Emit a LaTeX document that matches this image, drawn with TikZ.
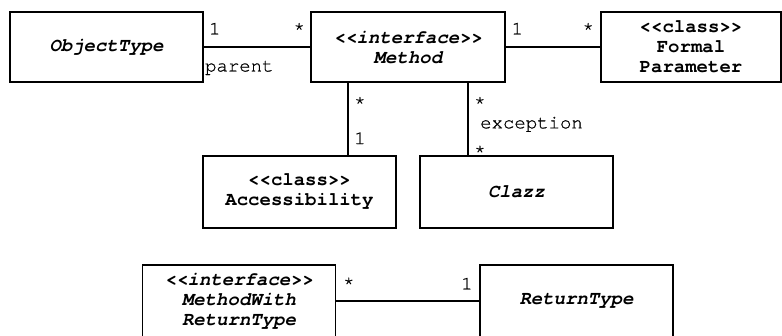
\documentclass[tikz,border=0pt]{standalone}
\usepackage{fontspec}
\setmonofont{texgyrecursor-regular.otf}[
  BoldFont=texgyrecursor-bold.otf,
  ItalicFont=texgyrecursor-italic.otf,
  BoldItalicFont=texgyrecursor-bolditalic.otf]
% slightly heavier regular face for the association labels
\newfontfamily\labelfont{texgyrecursor-regular.otf}[FakeBold=0.6]
\begin{document}
\begin{tikzpicture}[x=1pt, y=-1pt,
  umltext/.style={font=\labelfont\fontsize{19}{20}\selectfont},
  cls/.style={draw, line width=1.8pt, align=center, inner sep=0pt,
    font=\ttfamily\bfseries\fontsize{19}{20}\selectfont},
  abstr/.style={cls, font=\ttfamily\bfseries\itshape\fontsize{19}{20}\selectfont},
  assoc/.style={line width=1.5pt},
  mult/.style={umltext, inner sep=0pt}]
\useasboundingbox (0,0) rectangle (782,336);

% classes and interfaces
\node[abstr, minimum width=193pt, minimum height=70pt] (obj)    at (106.5,47) {ObjectType};
\node[abstr, minimum width=194pt, minimum height=70pt] (meth)   at (408,47)   {<<interface>>\\Method};
\node[cls,   minimum width=180pt, minimum height=70pt] (formal) at (691,47)   {<<class>>\\Formal\\Parameter};
\node[cls,   minimum width=193pt, minimum height=72pt] (acc)    at (299.5,192) {<<class>>\\Accessibility};
\node[abstr, minimum width=193pt, minimum height=72pt] (clazz)  at (516.5,192) {Clazz};
\node[abstr, minimum width=193pt, minimum height=72pt] (mwrt)   at (239,301) {<<interface>>\\MethodWith\\ReturnType};
\node[abstr, minimum width=193pt, minimum height=72pt] (rt)     at (576.5,301) {ReturnType};

% associations
\draw[assoc] (obj.east) -- (meth.west);
\draw[assoc] (meth.east) -- (formal.west);
\coordinate (accTop) at ([xshift=-60pt]meth.south);
\coordinate (clzTop) at ([xshift=60pt]meth.south);
\draw[assoc] (accTop) -- (accTop |- acc.north);
\draw[assoc] (clzTop) -- (clzTop |- clazz.north);
\draw[assoc] (mwrt.east) -- (rt.west);

% multiplicities and role names
\node[mult, anchor=base west] (m1) at ([shift={(5pt,12.5pt)}]obj.east) {1};
\node[mult, anchor=base east] (m2) at ([shift={(-5pt,12.5pt)}]meth.west) {*};
\node[mult, anchor=base west] (rparent) at ([shift={(1pt,-24.5pt)}]obj.east) {parent};
\node[mult, anchor=base west] (m3) at ([shift={(5.5pt,12.5pt)}]meth.east) {1};
\node[mult, anchor=base east] (m4) at ([shift={(-6pt,12.5pt)}]formal.west) {*};
\node[mult, anchor=base west] (m5) at ([shift={(6pt,-25.5pt)}]accTop) {*};
\node[mult, anchor=base west] (m6) at ([shift={(6pt,11pt)}]accTop |- acc.north) {1};
\node[mult, anchor=base west] (m7) at ([shift={(6pt,-25.5pt)}]clzTop) {*};
\node[mult, anchor=base west] (rexc) at ([shift={(12pt,-45.5pt)}]clzTop) {exception};
\node[mult, anchor=base west] (m8) at ([shift={(6pt,-2pt)}]clzTop |- clazz.north) {*};
\node[mult, anchor=base west] (m9) at ([shift={(6.5pt,12pt)}]mwrt.east) {*};
\node[mult, anchor=base east] (m10) at ([shift={(-6.3pt,11.5pt)}]rt.west) {1};
\end{tikzpicture}
\end{document}
